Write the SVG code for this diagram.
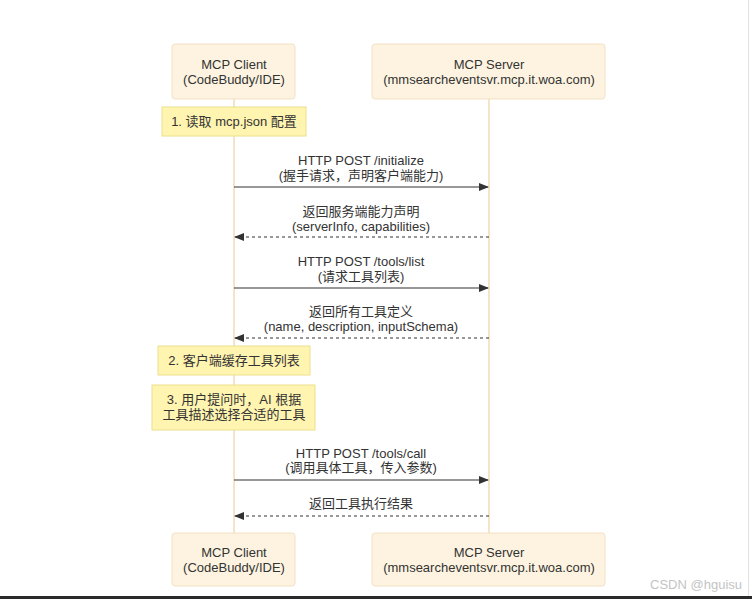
<svg xmlns="http://www.w3.org/2000/svg" width="752" height="599" viewBox="0 0 752 599">
<defs>
<style>
text{font-family:"Liberation Sans",Arial,sans-serif;font-size:13px;fill:#333;text-anchor:middle}
.cjk{font-family:"Liberation Sans","Noto Sans CJK SC",sans-serif}
.actor{fill:#fdf3e0;stroke:#f2e1c2;stroke-width:1}
.note{fill:#fff4b0;stroke:#ece08e;stroke-width:1}
.life{stroke:#f0dcb8;stroke-width:1.5;fill:none}
.msg{stroke:#333;stroke-width:1.2;fill:none}
.ret{stroke:#333;stroke-width:1.2;fill:none;stroke-dasharray:3,3}
</style>
<marker id="ah" markerWidth="10" markerHeight="8" refX="9" refY="4" orient="auto" markerUnits="userSpaceOnUse">
<path d="M0,0 L10,4 L0,8 Z" fill="#333"/>
</marker>
</defs>
<rect width="752" height="599" fill="#fff"/>
<g id="lifelines">
<line class="life" x1="234" y1="99" x2="234" y2="533"/>
<line class="life" x1="489" y1="99" x2="489" y2="533"/>
</g>
<g id="client-top"><rect class="actor" x="172" y="44" width="123" height="55" rx="3"/><text x="234" y="69">MCP Client</text><text x="234" y="84">(CodeBuddy/IDE)</text></g>
<g id="server-top"><rect class="actor" x="372" y="44" width="233" height="55" rx="3"/><text x="489" y="69">MCP Server</text><text x="489" y="84">(mmsearcheventsvr.mcp.it.woa.com)</text></g>
<g id="note1"><rect class="note" x="162" y="107" width="144" height="29"/><text class="cjk" x="234" y="126">1. 读取 mcp.json 配置</text></g>
<g id="note2"><rect class="note" x="158" y="346" width="152" height="29"/><text class="cjk" x="234" y="365">2. 客户端缓存工具列表</text></g>
<g id="note3"><rect class="note" x="152" y="385" width="163" height="45"/><text class="cjk" x="234" y="404">3. 用户提问时，AI 根据</text><text class="cjk" x="234" y="419">工具描述选择合适的工具</text></g>
<g id="connectors">
<line class="msg" x1="234" y1="187" x2="488" y2="187" marker-end="url(#ah)"/>
<text x="361" y="165">HTTP POST /initialize</text><text class="cjk" x="361" y="180">(握手请求，声明客户端能力)</text>
<line class="ret" x1="489" y1="237" x2="235" y2="237" marker-end="url(#ah)"/>
<text class="cjk" x="361" y="216">返回服务端能力声明</text><text x="361" y="231">(serverInfo, capabilities)</text>
<line class="msg" x1="234" y1="288" x2="488" y2="288" marker-end="url(#ah)"/>
<text x="361" y="266">HTTP POST /tools/list</text><text class="cjk" x="361" y="281">(请求工具列表)</text>
<line class="ret" x1="489" y1="338" x2="235" y2="338" marker-end="url(#ah)"/>
<text class="cjk" x="361" y="316">返回所有工具定义</text><text x="361" y="331">(name, description, inputSchema)</text>
<line class="msg" x1="234" y1="480" x2="488" y2="480" marker-end="url(#ah)"/>
<text x="361" y="458">HTTP POST /tools/call</text><text class="cjk" x="361" y="472">(调用具体工具，传入参数)</text>
<line class="ret" x1="489" y1="516" x2="235" y2="516" marker-end="url(#ah)"/>
<text class="cjk" x="361" y="508">返回工具执行结果</text>
</g>
<g id="client-bottom"><rect class="actor" x="172" y="533" width="123" height="53" rx="3"/><text x="234" y="557">MCP Client</text><text x="234" y="572">(CodeBuddy/IDE)</text></g>
<g id="server-bottom"><rect class="actor" x="372" y="533" width="233" height="53" rx="3"/><text x="489" y="557">MCP Server</text><text x="489" y="572">(mmsearcheventsvr.mcp.it.woa.com)</text></g>
<text x="742" y="589" style="text-anchor:end;fill:#c4c4c4;font-size:13px">CSDN @hguisu</text>
<line x1="748.5" y1="0" x2="748.5" y2="596" stroke="#e2e2e2" stroke-width="1"/>
<rect x="0" y="596" width="752" height="3" fill="#2a2a2a"/>
</svg>
